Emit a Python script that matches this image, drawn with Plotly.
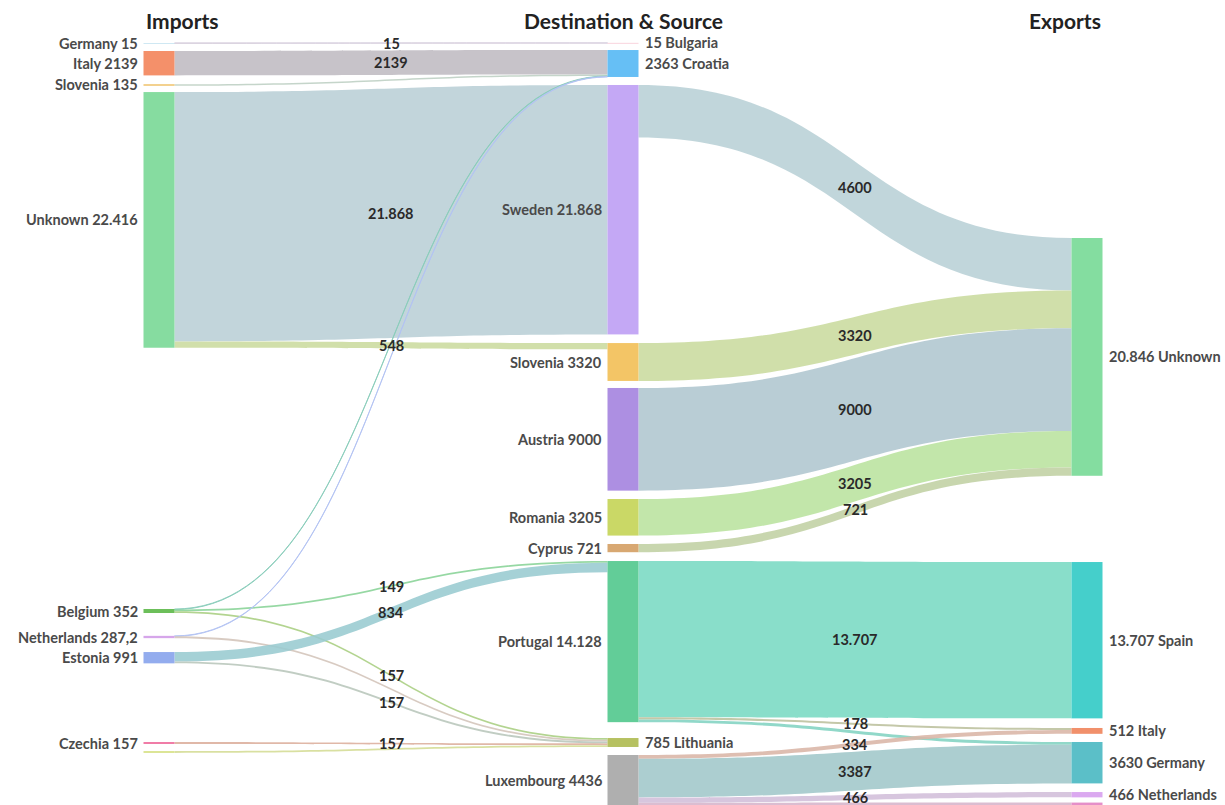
import plotly.graph_objects as go

# ---------------- data ----------------
import_names = ["Germany", "Italy", "Slovenia", "Unknown", "Belgium", "Netherlands", "Estonia", "Czechia", "Other"]
import_labels = [15, 2139, 135, 22416, 352, 287.2, 991, 157, None]

middle_names = ["Bulgaria", "Croatia", "Sweden", "Slovenia", "Austria", "Romania", "Cyprus", "Portugal", "Lithuania", "Luxembourg"]
middle_labels = [15, 2363, 21868, 3320, 9000, 3205, 721, 14128, 785, 4436]

export_names = ["Unknown", "Spain", "Italy", "Germany", "Netherlands", "Other"]
export_labels = [20846, 13707, 512, 3630, 466, None]

# imports -> destination & source
imp_src = ["Germany", "Italy", "Slovenia", "Unknown", "Unknown", "Belgium", "Belgium", "Belgium",
           "Netherlands", "Netherlands", "Estonia", "Estonia", "Czechia", "Other"]
imp_dst = ["Bulgaria", "Croatia", "Croatia", "Sweden", "Slovenia", "Croatia", "Portugal", "Lithuania",
           "Croatia", "Lithuania", "Portugal", "Lithuania", "Lithuania", "Lithuania"]
imp_val = [15, 2139, 135, 21868, 548, 46, 149, 157, 43, 157, 834, 157, 157, 157]
imp_show = [1, 1, 0, 1, 1, 0, 1, 1, 0, 0, 1, 1, 1, 0]

# destination & source -> exports
exp_src = ["Sweden", "Slovenia", "Austria", "Romania", "Cyprus", "Portugal", "Portugal", "Portugal",
           "Luxembourg", "Luxembourg", "Luxembourg", "Luxembourg"]
exp_dst = ["Unknown", "Unknown", "Unknown", "Unknown", "Unknown", "Spain", "Italy", "Germany",
           "Italy", "Germany", "Netherlands", "Other"]
exp_val = [4600, 3320, 9000, 3205, 721, 13707, 178, 243, 334, 3387, 466, 249]
exp_show = [1, 1, 1, 1, 1, 1, 1, 0, 1, 1, 1, 0]

column_titles = ["Imports", "Destination & Source", "Exports"]

# ---------------- styling / layout ----------------
W, H_PAGE = 1225, 805
TOP = 40                     # top of sankey area (px)
H = H_PAGE - TOP             # sankey height (px)
THICK = 31
PAD = 22
col_x = [159, 623, 1087]     # node centre x (px)

import_colors = ["#9fd0e6", "#f4906a", "#f0c46e", "#86dca0", "#6cbf5a", "#d6a6ea", "#93acee", "#ef6e9e", "#d9e38b"]
middle_colors = ["#f2a9bb", "#66bff5", "#c4a8f5", "#f3c566", "#ad8fe2", "#cad866", "#d8a872", "#62cd98", "#b6c161", "#afafaf"]
export_colors = ["#84dda0", "#45cfcb", "#f1906b", "#5bbfc8", "#dba9f0", "#e58fc9"]

# node centre y (px) – layout placement of each node
import_cy = [43.1, 63.2, 85.0, 219.9, 611.0, 637.0, 657.7, 743.0, 752.0]
middle_cy = [43.0, 63.5, 209.7, 362.0, 439.3, 517.3, 548.1, 641.6, 742.5, 780.3]
export_cy = [356.9, 640.2, 730.9, 762.7, 794.7, 804.0]

# ---------------- build graph ----------------
nodes = []
for i, n in enumerate(import_names):
    nodes.append(dict(key=("I", n), name=n, lab=import_labels[i], col=0, color=import_colors[i], cy=import_cy[i]))
for i, n in enumerate(middle_names):
    nodes.append(dict(key=("M", n), name=n, lab=middle_labels[i], col=1, color=middle_colors[i], cy=middle_cy[i]))
for i, n in enumerate(export_names):
    nodes.append(dict(key=("E", n), name=n, lab=export_labels[i], col=2, color=export_colors[i], cy=export_cy[i]))
idx = {nd["key"]: i for i, nd in enumerate(nodes)}

links = []
for s, t, v, sh in zip(imp_src, imp_dst, imp_val, imp_show):
    links.append(dict(s=idx[("I", s)], t=idx[("M", t)], v=v, show=sh))
for s, t, v, sh in zip(exp_src, exp_dst, exp_val, exp_show):
    links.append(dict(s=idx[("M", s)], t=idx[("E", t)], v=v, show=sh))

N = len(nodes)
outs = [[] for _ in range(N)]
ins = [[] for _ in range(N)]
for li, l in enumerate(links):
    outs[l["s"]].append(li)
    ins[l["t"]].append(li)
value = [max(sum(links[k]["v"] for k in outs[i]), sum(links[k]["v"] for k in ins[i])) for i in range(N)]

# replicate d3-sankey (justify) columns to get the vertical scale
depth = [0] * N
cur = [i for i in range(N)]
d = 0
while cur:
    nxt = []
    for i in cur:
        depth[i] = d
        for k in outs[i]:
            if links[k]["t"] not in nxt:
                nxt.append(links[k]["t"])
    cur = nxt
    d += 1
maxd = d
colj = [depth[i] if outs[i] else maxd - 1 for i in range(N)]
cols = {}
for i in range(N):
    cols.setdefault(colj[i], []).append(i)
py = min(PAD, H / (max(len(c) for c in cols.values()) - 1))
ky = min((H - (len(c) - 1) * py) / sum(value[i] for i in c) for c in cols.values())

y0 = [nodes[i]["cy"] - value[i] * ky / 2 for i in range(N)]
x0 = [col_x[nodes[i]["col"]] - THICK / 2 for i in range(N)]
x1 = [col_x[nodes[i]["col"]] + THICK / 2 for i in range(N)]

# link breadths
ly0 = [0.0] * len(links)
ly1 = [0.0] * len(links)
for i in range(N):
    y = y0[i]
    for k in sorted(outs[i], key=lambda k: y0[links[k]["t"]]):
        w = links[k]["v"] * ky
        ly0[k] = y + w / 2
        y += w
    y = y0[i]
    for k in sorted(ins[i], key=lambda k: y0[links[k]["s"]]):
        w = links[k]["v"] * ky
        ly1[k] = y + w / 2
        y += w


def hex2rgb(h):
    h = h.lstrip("#")
    return [int(h[j:j + 2], 16) for j in (0, 2, 4)]


def light(c, f):
    return [c[j] + (255 - c[j]) * f for j in range(3)]


def mix(a, b, f=0.5):
    return [a[j] * (1 - f) + b[j] * f for j in range(3)]


def link_color(s, t):
    a = light(hex2rgb(nodes[s]["color"]), 0.22)
    b = light(hex2rgb(nodes[t]["color"]), 0.22)
    m = mix(a, b)
    return "rgba(%d,%d,%d,0.88)" % tuple(round(x) for x in m)


def fmt(v):
    if isinstance(v, float) and not v.is_integer():
        return ("%g" % v).replace(".", ",")
    v = int(v)
    if v >= 10000:
        return "{:,}".format(v).replace(",", ".")
    return str(v)


fig = go.Figure(go.Sankey(
    arrangement="fixed",
    domain=dict(x=[0, 1], y=[0, 1 - TOP / H_PAGE]),
    node=dict(
        label=["" for _ in nodes],
        customdata=[nd["name"] for nd in nodes],
        hovertemplate="%{customdata}: %{value}<extra></extra>",
        color=[nd["color"] for nd in nodes],
        x=[col_x[nd["col"]] / W for nd in nodes],
        y=[(nd["cy"] - TOP) / H for nd in nodes],
        thickness=THICK,
        pad=PAD,
        line=dict(width=0),
    ),
    link=dict(
        source=[l["s"] for l in links],
        target=[l["t"] for l in links],
        value=[l["v"] for l in links],
        color=[link_color(l["s"], l["t"]) for l in links],
    ),
))

FONT = "Lato"
ann = []
# column titles
title_pos = [(x0[idx[("I", import_names[0])]], "left"), (col_x[1], "center"), (x1[idx[("E", export_names[0])]], "right")]
for t, (xp, anc) in zip(column_titles, title_pos):
    ann.append(dict(x=xp / W, y=1 - 21 / H_PAGE, text=t, xanchor=anc, yanchor="middle",
                    font=dict(family=FONT, size=21, color="#222", weight=700)))

# node labels
for i, nd in enumerate(nodes):
    if nd["lab"] is None:
        continue
    on_left = nd["col"] == 0 or (nd["col"] == 1 and len(outs[i]) > 0)
    if on_left:
        txt = "%s %s" % (nd["name"], fmt(nd["lab"]))
        xp, anc = x0[i] - 4, "right"
    else:
        txt = "%s %s" % (fmt(nd["lab"]), nd["name"])
        xp, anc = x1[i] + 4, "left"
    ann.append(dict(x=xp / W, y=1 - nd["cy"] / H_PAGE, text=txt, xanchor=anc, yanchor="middle",
                    font=dict(family=FONT, size=14.5, color="#4a4a4a", weight=700)))

# link value labels
for k, l in enumerate(links):
    if not l["show"]:
        continue
    xm = (x1[l["s"]] + x0[l["t"]]) / 2
    ym = (ly0[k] + ly1[k]) / 2
    ann.append(dict(x=xm / W, y=1 - ym / H_PAGE, text=fmt(l["v"]), xanchor="center", yanchor="middle",
                    font=dict(family=FONT, size=14.5, color="#2a2a2a", weight=700)))

for a in ann:
    a.update(xref="paper", yref="paper", showarrow=False)

fig.update_layout(
    width=W, height=H_PAGE,
    margin=dict(l=0, r=0, t=0, b=0),
    paper_bgcolor="white",
    annotations=ann,
    font=dict(family=FONT),
)

fig.write_html("out.html", config={"displayModeBar": False},
               post_script="document.body.style.margin='0';document.body.style.overflow='hidden';")
